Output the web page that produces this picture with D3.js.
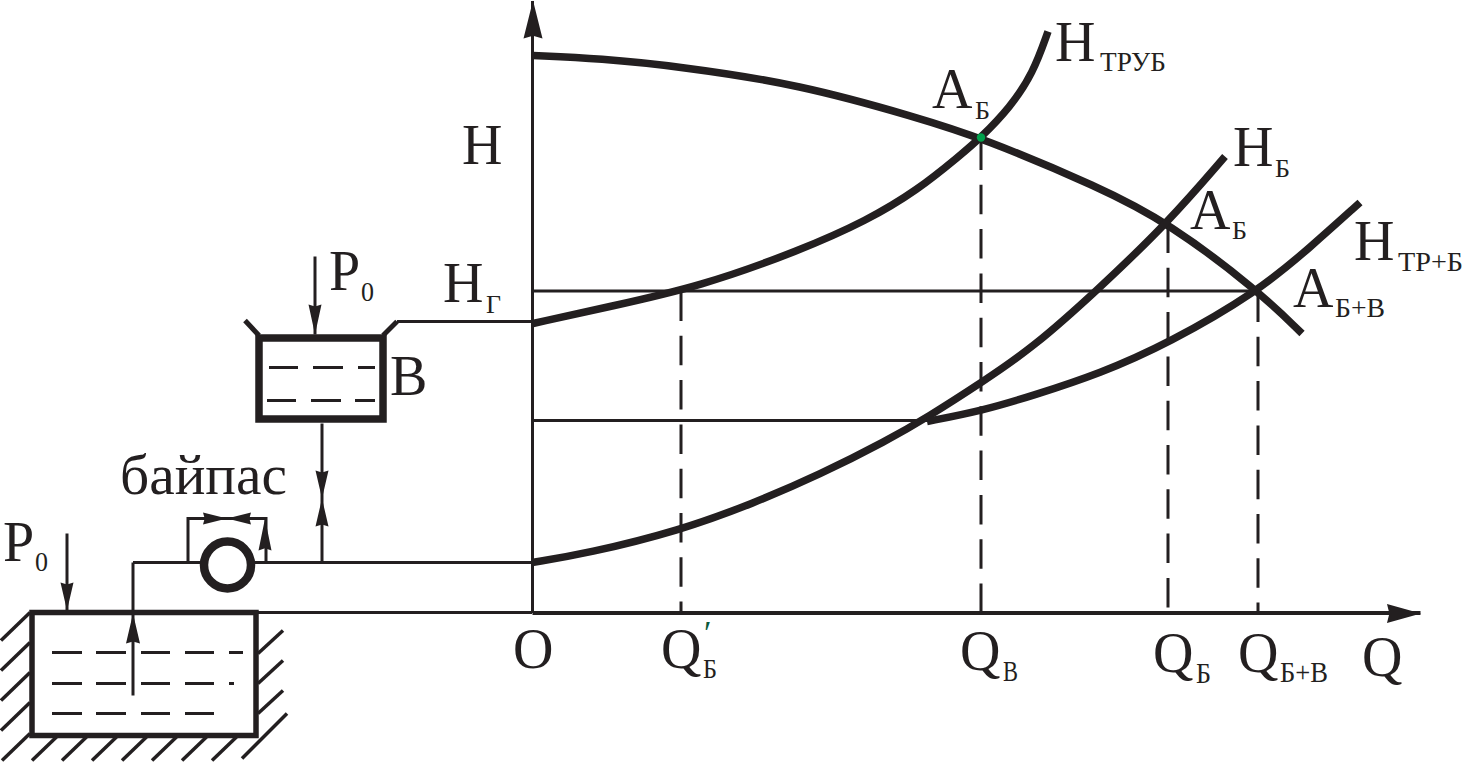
<!DOCTYPE html>
<html><head><meta charset="utf-8">
<script src="https://cdn.jsdelivr.net/npm/d3@7"></script>
<style>html,body{margin:0;background:#fff}svg{display:block}text{font-family:"Liberation Serif",serif;fill:#231f20}</style>
</head><body><svg id="c" width="1463" height="762"></svg>
<script>
// Values, in diagram units (origin O at Q=0, H=0)
const pumpCurve   = [[1,557],[68,554],[148,546],[268,528],[385,495],[449,475],[568,425],[636,390],[726,322],[770,279]];
const pipeBCurve  = [[1,289],[78,306],[168,326],[268,362],[335,392],[385,422],[428,457],[449,475],[478,505],[501,539],[516,581]];
const boosterCurve= [[0,50],[55,59],[148,82],[221,109],[288,138],[355,172],[395,195],[451,231],[501,265],[565,322],[636,390],[693,456]];
const pipeSumCurve= [[395,191],[451,202],[501,217],[568,239],[636,269],[726,321],[778,365],[828,410]];
const dropQ = [149,449,636,726];
const dropTopH = [321,472,389,320];
const levelLines = [[0,726,321.5],[0,395,192]];
const thinLines = [
 [[-135,291],[0,291]], [[-399,50],[-332,50]], [[-277,50],[0,50]], [[-399,50],[-399,-83]],
 [[-344,50],[-344,94],[-266,94],[-266,50]], [[-210,189],[-210,50]], [[-217,356],[-217,278]],
 [[-465,79],[-465,2]], [[-274,0],[0,0]]
];
const thickLines = [[[-287,292],[-273,277]],[[-149,277],[-135,291]]];
const hatchLines = [
 [[-531,-28],[-502,0]],[[-531,-58],[-502,-30]],[[-531,-88],[-502,-60]],[[-531,-118],[-502,-90]],
 [[-274,-41],[-249,-18]],[[-274,-71],[-249,-48]],[[-274,-101],[-249,-78]],[[-290,-146],[-245,-101]],
 [[-530,-148],[-502,-121]],[[-500,-148],[-475,-124]],[[-470,-148],[-445,-124]],[[-440,-148],[-415,-124]],
 [[-410,-148],[-385,-124]],[[-380,-148],[-355,-124]],[[-350,-148],[-325,-124]],[[-320,-148],[-295,-124]]
];
const tankDashes = [
 [[-480,-40],[-450,-40]],[[-436,-40],[-406,-40]],[[-391,-40],[-362,-40]],[[-347,-40],[-318,-40]],[[-303,-40],[-289,-40]],
 [[-480,-71],[-450,-71]],[[-436,-71],[-406,-71]],[[-391,-71],[-362,-71]],[[-347,-71],[-318,-71]],[[-303,-71],[-298,-71]],
 [[-480,-101],[-450,-101]],[[-436,-101],[-406,-101]],[[-391,-101],[-362,-101]],[[-347,-101],[-318,-101]],
 [[-263,245],[-234,245]],[[-219,245],[-189,245]],[[-174,245],[-157,245]],
 [[-265,212],[-236,212]],[[-221,212],[-191,212]],[[-177,212],[-157,212]]
];
const tanks = [[-500,0,224,123,5.5],[-273,274.5,124,81,7.5]];
// arrowheads: tip Q, tip H, direction Q, direction H, length, half width
const arrows = [
 [1,612,0,1,38,9.5],[889,-1,1,0,34,9.5],
 [-217,278,0,-1,30,6.5],[-465,2,0,-1,28,6.5],[-399,-1,0,1,30,7],
 [-210,114,0,-1,28,6.5],[-210,114,0,1,28,6.5],
 [-305,94,1,0,24,6],[-305,94,-1,0,24,6],[-267,94,0,1,32,6.5]
];
const labels = [
 ["H",null,462,449],["H","ТРУБ",1055,552],["A","Б",932,505],["H","Б",1233,447],["A","Б",1190,384],
 ["H","ТР+Б",1354,353],["A","Б+В",1293,306],["H","Г",443,311],["P","0",329,323],["B",null,390,218],
 ["P","0",3,52],["O",null,513,-55],["Q","Б",661,-55],["Q","В",960,-57],["Q","Б",1153,-59],["Q","Б+В",1238,-59],["Q",null,1362,-63]
];
const subPlacement = [
 null,[1100,542,66,27],[975,494,15,25],[1275,436,15,25],[1232,374,15,25],
 [1398,342,65,28],[1335,296,50,27],[486,300,15,25],[361,312,13,28],null,
 [35,42,13,28],null,[703,-65,14,28],[1003,-68,15,30],[1196,-70,15,30],[1280,-69,48,29],null
];
const bypassLabel = "байпас";
const primeMark = "′";

const X = d3.scaleLinear().domain([0,888]).range([532,1420]);
const Y = d3.scaleLinear().domain([0,612]).range([612.5,0.5]);
const svg = d3.select("#c");
const ink = "#231f20";
const line = d3.line().x(d=>X(d[0])).y(d=>Y(d[1]));
const smooth = d3.line().x(d=>X(d[0])).y(d=>Y(d[1])).curve(d3.curveBasis);

function seg(list,w){
  svg.append("g").selectAll("path").data(list).join("path")
    .attr("d",line).attr("fill","none").attr("stroke",ink).attr("stroke-width",w).attr("stroke-linejoin","miter");
}

// axes, built with d3 axes and no ticks
svg.append("g").attr("transform",`translate(0,${Y(0)})`)
  .call(d3.axisBottom(X).tickValues([]).tickSize(0)).select(".domain").attr("stroke",ink).attr("stroke-width",4);
svg.append("g").attr("transform",`translate(${X(0)},0)`)
  .call(d3.axisLeft(Y).tickValues([]).tickSize(0)).select(".domain").attr("stroke",ink).attr("stroke-width",3);

// level lines & dashed drops
seg(levelLines.map(d=>[[d[0],d[2]],[d[1],d[2]]]),2.8);
svg.append("g").selectAll("line").data(dropQ).join("line")
  .attr("x1",d=>X(d)).attr("x2",d=>X(d)).attr("y1",(d,i)=>Y(dropTopH[i])).attr("y2",Y(0))
  .attr("stroke",ink).attr("stroke-width",3).attr("stroke-dasharray","29.5 14.8");

// curves
[pumpCurve,pipeBCurve,boosterCurve,pipeSumCurve].forEach(c=>{
  svg.append("path").attr("d",smooth(c)).attr("fill","none").attr("stroke",ink).attr("stroke-width",7.5);
});
svg.append("circle").attr("cx",X(449)).attr("cy",Y(475)).attr("r",4.2).attr("fill","#00a14b");

// schematic
seg(thinLines,3); seg(thickLines,5); seg(hatchLines,3.5); seg(tankDashes,3);
svg.append("g").selectAll("rect").data(tanks).join("rect")
  .attr("x",d=>X(d[0])).attr("y",d=>Y(d[1]))
  .attr("width",d=>d[2]).attr("height",d=>d[3])
  .attr("fill","none").attr("stroke",ink).attr("stroke-width",d=>d[4]);
svg.append("circle").attr("cx",X(-304.5)).attr("cy",Y(47.5)).attr("r",23.5)
  .attr("fill","#fff").attr("stroke",ink).attr("stroke-width",8.5);

svg.append("g").selectAll("path").data(arrows).join("path")
  .attr("fill",ink)
  .attr("d",a=>{
    const [q,h,dq,dh,len,hw]=a;
    const tx=X(q),ty=Y(h),ux=dq,uy=-dh;
    const bx=tx-ux*len,by=ty-uy*len,nx=-uy,ny=ux;
    const mx=tx-ux*len*0.93,my=ty-uy*len*0.93;
    return `M${tx},${ty}L${bx+nx*hw},${by+ny*hw}L${mx},${my}L${bx-nx*hw},${by-ny*hw}Z`;
  });

// labels
const big=56;
labels.forEach((l,i)=>{
  svg.append("text").attr("x",l[2]).attr("y",Y(l[3])).attr("font-size",big).text(l[0]);
  if(l[1]){
    const p=subPlacement[i];
    svg.append("text").attr("x",p[0]).attr("y",Y(p[1])).attr("font-size",p[3])
      .attr("textLength",p[2]).attr("lengthAdjust","spacingAndGlyphs").text(l[1]);
  }
});
svg.append("text").attr("x",120).attr("y",494).attr("font-size",56)
  .attr("textLength",167).attr("lengthAdjust","spacingAndGlyphs").text(bypassLabel);
svg.append("text").attr("x",704).attr("y",644).attr("font-size",34).style("fill","#0b5a3b").text(primeMark);
</script></body></html>
